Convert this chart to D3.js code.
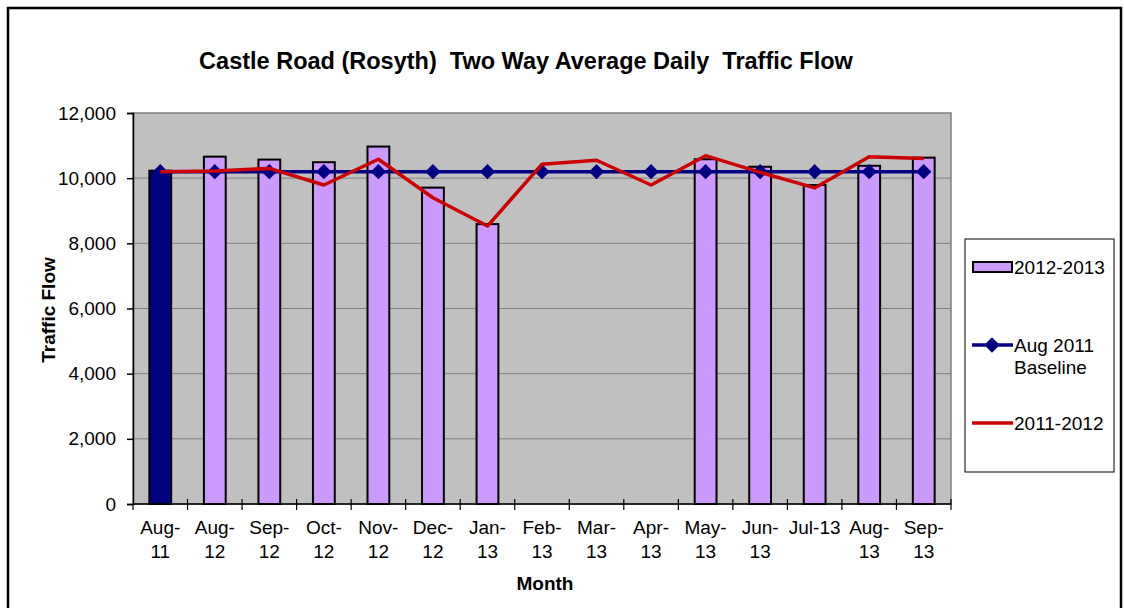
<!DOCTYPE html>
<html>
<head>
<meta charset="utf-8">
<script src="https://cdn.jsdelivr.net/npm/d3@7"></script>
<style>
  html, body { margin: 0; padding: 0; background: #fff; }
  svg { display: block; font-family: "Liberation Sans", Arial, sans-serif; }
</style>
</head>
<body>
<svg id="chart" width="1124" height="608"></svg>
<script>
// Months on the category axis
const months = ["Aug-11", "Aug-12", "Sep-12", "Oct-12", "Nov-12", "Dec-12", "Jan-13",
                "Feb-13", "Mar-13", "Apr-13", "May-13", "Jun-13", "Jul-13", "Aug-13", "Sep-13"];
// Axis tick text, wrapped onto lines
const monthLabels = ["Aug-\n11", "Aug-\n12", "Sep-\n12", "Oct-\n12", "Nov-\n12", "Dec-\n12", "Jan-\n13",
                     "Feb-\n13", "Mar-\n13", "Apr-\n13", "May-\n13", "Jun-\n13", "Jul-13", "Aug-\n13", "Sep-\n13"];
// 2012-2013 counts (first column is the Aug 2011 survey)
const flow2012_13 = [10230, 10660, 10570, 10490, 10970, 9710, 8590,
                     null, null, null, 10580, 10350, 9790, 10380, 10630];
// Aug 2011 baseline
const baseline = [10200, 10200, 10200, 10200, 10200, 10200, 10200,
                  10200, 10200, 10200, 10200, 10200, 10200, 10200, 10200];
// 2011-2012 counts
const flow2011_12 = [10200, 10220, 10300, 9790, 10580, 9400, 8530,
                     10430, 10550, 9790, 10690, 10180, 9700, 10660, 10600];
const yTicks = [0, 2000, 4000, 6000, 8000, 10000, 12000];
const legendNames = ["2012-2013", "Aug 2011\nBaseline", "2011-2012"];

const svg = d3.select("#chart");
const plot = { left: 133, right: 951, top: 113, bottom: 504 };

// outer frame
svg.append("rect").attr("x", 8).attr("y", 8).attr("width", 1113).attr("height", 640)
  .attr("fill", "#fff").attr("stroke", "#000").attr("stroke-width", 2.5);

const x = d3.scaleBand().domain(months).range([plot.left, plot.right]).paddingInner(0).paddingOuter(0);
const y = d3.scaleLinear().domain([0, 12000]).range([plot.bottom, plot.top]);

// plot area
svg.append("rect").attr("x", plot.left).attr("y", plot.top)
  .attr("width", plot.right - plot.left).attr("height", plot.bottom - plot.top)
  .attr("fill", "#C0C0C0").attr("stroke", "#808080").attr("stroke-width", 1.5);

// gridlines
svg.append("g").selectAll("line").data(yTicks.filter(d => d > 0 && d < 12000)).join("line")
  .attr("x1", plot.left).attr("x2", plot.right)
  .attr("y1", d => y(d)).attr("y2", d => y(d))
  .attr("stroke", "#808080").attr("stroke-width", 1);

// bars
const barW = x.bandwidth() * 0.4;
svg.append("g").selectAll("rect")
  .data(months.map((m, i) => ({ m, v: flow2012_13[i], i })).filter(d => d.v != null))
  .join("rect")
  .attr("x", d => x(d.m) + (x.bandwidth() - barW) / 2)
  .attr("y", d => y(d.v))
  .attr("width", barW)
  .attr("height", d => y(0) - y(d.v))
  .attr("fill", d => d.i === 0 ? "#000080" : "#CC99FF")
  .attr("stroke", "#000").attr("stroke-width", 2);

// y axis
const yAxis = d3.axisLeft(y).tickValues(yTicks).tickFormat(d3.format(",")).tickSize(6).tickPadding(11);
const gy = svg.append("g").attr("transform", `translate(${plot.left},0)`).call(yAxis);
gy.select(".domain").attr("stroke", "#000").attr("stroke-width", 1.5);
gy.selectAll(".tick line").attr("stroke", "#000").attr("stroke-width", 1.5);
gy.selectAll(".tick text").attr("font-size", 19).attr("fill", "#000")
  .attr("font-family", "'Liberation Sans', Arial, sans-serif");

// x axis with ticks at band boundaries
svg.append("line").attr("x1", plot.left).attr("x2", plot.right)
  .attr("y1", plot.bottom).attr("y2", plot.bottom).attr("stroke", "#000").attr("stroke-width", 1.5);
const bounds = months.map(m => x(m)).concat([plot.right]);
svg.append("g").selectAll("line").data(bounds).join("line")
  .attr("x1", d => d).attr("x2", d => d)
  .attr("y1", (d, i) => i === 0 ? plot.bottom : plot.bottom - 5).attr("y2", plot.bottom + 6)
  .attr("stroke", "#000").attr("stroke-width", 1.2);

const xl = svg.append("g").selectAll("text").data(months).join("text")
  .attr("x", d => x(d) + x.bandwidth() / 2)
  .attr("y", 534)
  .attr("text-anchor", "middle").attr("font-size", 19).attr("fill", "#000");
xl.each(function (d, i) {
  const lines = monthLabels[i].split("\n");
  d3.select(this).selectAll("tspan").data(lines).join("tspan")
    .attr("x", x(d) + x.bandwidth() / 2)
    .attr("dy", (l, j) => j === 0 ? 0 : 24)
    .text(l => l);
});

// baseline series
const line = d3.line().x((d, i) => x(months[i]) + x.bandwidth() / 2).y(d => y(d));
svg.append("path").datum(baseline).attr("d", line)
  .attr("fill", "none").attr("stroke", "#000080").attr("stroke-width", 3.5);
const diamond = d3.symbol().type(d3.symbolDiamond2).size(150);
svg.append("g").selectAll("path").data(baseline).join("path")
  .attr("transform", (d, i) => `translate(${x(months[i]) + x.bandwidth() / 2},${y(d)})`)
  .attr("d", diamond).attr("fill", "#000080");

// 2011-2012 series
svg.append("path").datum(flow2011_12).attr("d", line)
  .attr("fill", "none").attr("stroke", "#CC0000").attr("stroke-width", 3.5)
  .attr("stroke-linejoin", "round");

// titles
svg.append("text").attr("x", 526).attr("y", 69).attr("text-anchor", "middle")
  .attr("font-size", 23.5).attr("font-weight", "bold").attr("fill", "#000")
  .attr("xml:space", "preserve")
  .text("Castle Road (Rosyth)  Two Way Average Daily  Traffic Flow");
svg.append("text").attr("x", 545).attr("y", 590).attr("text-anchor", "middle")
  .attr("font-size", 19).attr("font-weight", "bold").attr("fill", "#000").text("Month");
svg.append("text").attr("transform", "translate(55,310) rotate(-90)").attr("text-anchor", "middle")
  .attr("font-size", 19).attr("font-weight", "bold").attr("fill", "#000").text("Traffic Flow");

// legend
const lg = svg.append("g");
lg.append("rect").attr("x", 965).attr("y", 239).attr("width", 149).attr("height", 233)
  .attr("fill", "#fff").attr("stroke", "#000").attr("stroke-width", 1);
lg.append("rect").attr("x", 973).attr("y", 262).attr("width", 39).attr("height", 10)
  .attr("fill", "#CC99FF").attr("stroke", "#000").attr("stroke-width", 2);
lg.append("line").attr("x1", 972).attr("x2", 1013).attr("y1", 345).attr("y2", 345)
  .attr("stroke", "#000080").attr("stroke-width", 3.5);
lg.append("path").attr("transform", "translate(992,345)")
  .attr("d", diamond).attr("fill", "#000080");
lg.append("line").attr("x1", 972).attr("x2", 1013).attr("y1", 423).attr("y2", 423)
  .attr("stroke", "#CC0000").attr("stroke-width", 3.5);
const legendY = [274, 352, 430];
legendNames.forEach((name, i) => {
  const t = lg.append("text").attr("x", 1014).attr("y", legendY[i])
    .attr("font-size", 19).attr("fill", "#000");
  name.split("\n").forEach((s, j) => {
    t.append("tspan").attr("x", 1014).attr("dy", j === 0 ? 0 : 22).text(s);
  });
});
</script>
</body>
</html>
